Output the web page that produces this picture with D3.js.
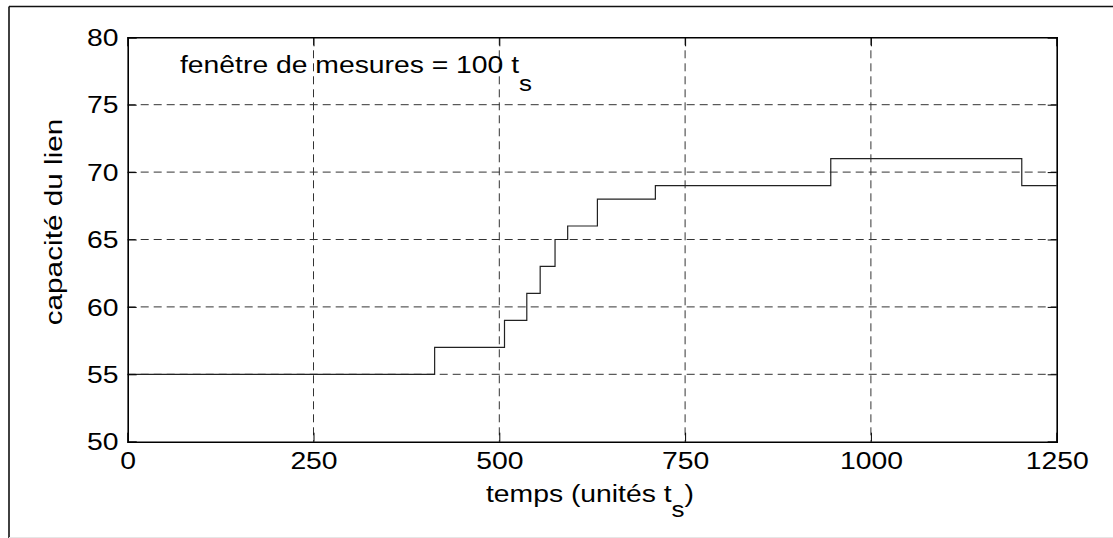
<!DOCTYPE html>
<html><head><meta charset="utf-8">
<script src="https://cdn.jsdelivr.net/npm/d3@7"></script>
<style>
html,body{margin:0;padding:0;background:#fff;}
svg{display:block;}
text{font-family:"Liberation Sans",Arial,sans-serif;fill:#000;}
</style></head>
<body>
<script>
const times = [0, 413, 507, 537, 555, 575, 592, 632, 710, 946, 1203, 1250];
const capacity = [55, 57, 59, 61, 63, 65, 66, 68, 69, 71, 69, 69];
const xTicks = [0, 250, 500, 750, 1000, 1250];
const yTicks = [50, 55, 60, 65, 70, 75, 80];
const xLabel = "temps (unités t";
const yLabel = "capacité du lien";
const note = "fenêtre de mesures = 100 t";

const W = 1113, H = 538;
const FS = 24, SX = 1.18;
const svg = d3.select("body").append("svg").attr("width", W).attr("height", H);

// outer frame
svg.append("line").attr("x1",9).attr("x2",9).attr("y1",6.5).attr("y2",H).attr("stroke","#111").attr("stroke-width",1.6);
svg.append("line").attr("x1",9).attr("x2",W).attr("y1",6.5).attr("y2",6.5).attr("stroke","#111").attr("stroke-width",1.6);
svg.append("line").attr("x1",9).attr("x2",W).attr("y1",537.5).attr("y2",537.5).attr("stroke","#e6e6e6").attr("stroke-width",1);

const x = d3.scaleLinear().domain([0,1250]).range([127.7,1056.7]);
const y = d3.scaleLinear().domain([50,80]).range([441.7,37.3]);

// grid
const g = svg.append("g");
g.selectAll(".gx").data(xTicks.slice(1,-1)).enter().append("line")
  .attr("x1",d=>x(d)).attr("x2",d=>x(d)).attr("y1",y(80)).attr("y2",y(50))
  .attr("stroke","#333").attr("stroke-width",1).attr("stroke-dasharray","8,5");
g.selectAll(".gy").data(yTicks.slice(1,-1)).enter().append("line")
  .attr("x1",x(0)).attr("x2",x(1250)).attr("y1",d=>y(d)).attr("y2",d=>y(d))
  .attr("stroke","#333").attr("stroke-width",1).attr("stroke-dasharray","8,5");

// data
const pts = times.map((t,i)=>[t,capacity[i]]);
svg.append("path").datum(pts)
  .attr("d", d3.line().x(d=>x(d[0])).y(d=>y(d[1])).curve(d3.curveStepAfter))
  .attr("fill","none").attr("stroke","#222").attr("stroke-width",1.2);

// axes (ticks inward on all sides)
const TL = 9;
const axB = svg.append("g").attr("transform",`translate(0,${y(50)})`)
  .call(d3.axisBottom(x).tickValues(xTicks).tickSize(-TL).tickFormat(""));
const axT = svg.append("g").attr("transform",`translate(0,${y(80)})`)
  .call(d3.axisTop(x).tickValues(xTicks).tickSize(-TL).tickFormat(""));
const axL = svg.append("g").attr("transform",`translate(${x(0)},0)`)
  .call(d3.axisLeft(y).tickValues(yTicks).tickSize(-TL).tickFormat(""));
const axR = svg.append("g").attr("transform",`translate(${x(1250)},0)`)
  .call(d3.axisRight(y).tickValues(yTicks).tickSize(-TL).tickFormat(""));
[axB,axT,axL,axR].forEach(a=>{
  a.select(".domain").attr("stroke","#000").attr("stroke-width",1.6);
  a.selectAll(".tick line").attr("stroke","#000").attr("stroke-width",1);
});

function stext(px,py,anchor){
  return svg.append("text").attr("transform",`translate(${px},${py}) scale(${SX},1)`)
    .attr("text-anchor",anchor).attr("font-size",FS);
}
// tick labels
xTicks.forEach(t=>stext(x(t)+0.5,469,"middle").text(d3.format("d")(t)));
yTicks.forEach(v=>stext(118.5,y(v)+8.7,"end").text(v));

// x label
const xl = stext(590,502,"middle");
xl.append("tspan").text(xLabel);
xl.append("tspan").attr("dy",15).attr("font-size",22).text("s");
xl.append("tspan").attr("dy",-15).text(")");

// y label
svg.append("text").attr("transform",`translate(62,222) rotate(-90) scale(1.24,1)`)
  .attr("text-anchor","middle").attr("font-size",FS).text(yLabel);

// annotation
const an = stext(180,73.3,"start");
an.append("tspan").text(note);
an.append("tspan").attr("dy",18).attr("font-size",22).text("s");
</script>
</body></html>
